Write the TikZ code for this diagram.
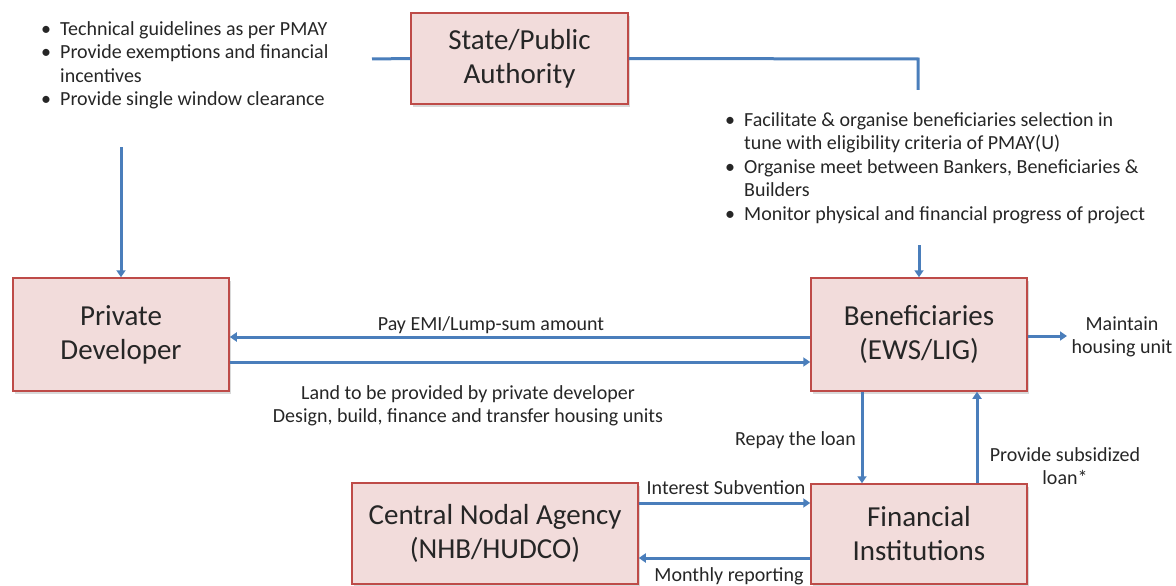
\documentclass[tikz,border=0pt]{standalone}
\usepackage{fontspec}
\setmainfont{Carlito}
\usetikzlibrary{arrows.meta}
\usetikzlibrary{shadows}
\usetikzlibrary{positioning}
\definecolor{boxfill}{HTML}{F2DCDB}
\definecolor{boxline}{HTML}{BE4B48}
\definecolor{flowblue}{HTML}{4A7EBB}
\definecolor{ink}{HTML}{262626}
\newcommand{\bul}{\makebox[19pt][l]{\textbullet}}
\newcommand{\bulgap}{\hspace*{19pt}}
\tikzset{agent/.style = {draw = boxline, line width = 1.5pt, fill = boxfill, align = center, text = ink, font = \fontsize{29}{34}\selectfont, drop shadow = {shadow xshift = 2pt, shadow yshift = -3pt, opacity = 0.3, fill = gray}}}
\tikzset{flow/.style = {draw = flowblue, line width = 3pt, -{Triangle[length = 7pt, width = 9pt]}}}
\tikzset{link/.style = {draw = flowblue, line width = 3pt}}
\tikzset{note/.style = {inner sep = 0, text = ink, font = \fontsize{20}{23.5}\selectfont}}

\begin{document}
\begin{tikzpicture}[x = 1pt, y = -1pt]
    \useasboundingbox (0, 0) rectangle (1176, 586);

    \node [agent, minimum width = 217, minimum height = 91] (state) at (519.5, 58.5) {State/Public\\Authority};
    \node [agent, minimum width = 216, minimum height = 113] (dev) at (121, 334.5) {Private\\Developer};
    \node [agent, minimum width = 216, minimum height = 113] (ben) at (919, 334.5) {Beneficiaries\\(EWS/LIG)};
    \node [agent, minimum width = 286, minimum height = 101] (nodal) at (495, 533.5) {Central Nodal Agency\\(NHB/HUDCO)};
    \node [agent, minimum width = 216, minimum height = 100] (bank) at (919, 534) {Financial\\Institutions};

    \node [note, anchor = north west, align = left] (guide) at (41, 21) {\bul Technical guidelines as per PMAY\\ \bul Provide exemptions and financial\\ \bulgap incentives\\ \bul Provide single window clearance};
    \node [note, anchor = north west, align = left] (role) at (725, 112) {\bul Facilitate \& organise beneficiaries selection in\\ \bulgap tune with eligibility criteria of PMAY(U)\\ \bul Organise meet between Bankers, Beneficiaries \&\\ \bulgap Builders\\ \bul Monitor physical and financial progress of project};

    \coordinate (stateleft) at (372, 59);
    \coordinate (statecorner) at (918, 59);
    \coordinate (stateend) at (918, 90);
    \draw [link] (stateleft) -- (state.west);
    \draw [link] (state.east) -- (statecorner) -- (stateend);

    \coordinate (devfeed) at (121, 147);
    \coordinate (benfeed) at (919, 245);
    \coordinate (keep) at (1067, 336);
    \draw [flow] (devfeed) -- (dev.north);
    \draw [flow] (benfeed) -- (ben.north);
    \draw [flow] ([yshift = -2.5pt] ben.west) -- ([yshift = -2.5pt] dev.east);
    \draw [flow] ([yshift = -27.5pt] dev.east) -- ([yshift = -27.5pt] ben.west);
    \draw [flow] ([yshift = -1.5pt] ben.east) -- (keep);
    \draw [flow] ([xshift = -57pt] ben.south) -- ([xshift = -57pt] bank.north);
    \draw [flow] ([xshift = 58pt] bank.north) -- ([xshift = 58pt] ben.south);
    \draw [flow] ([yshift = 30.5pt] nodal.east) -- ([yshift = 31pt] bank.west);
    \draw [flow] ([yshift = -24pt] bank.west) -- ([yshift = -24.5pt] nodal.east);

    \node [note] (paylabel) at (491, 325) {Pay EMI/Lump-sum amount};
    \node [note, align = center] (landlabel) at (468, 406) {Land to be provided by private developer\\Design, build, finance and transfer housing units};
    \node [note, anchor = east] (repaylabel) at (856, 440) {Repay the loan};
    \node [note, align = center] (loanlabel) at (1065, 466) {Provide subsidized\\loan*};
    \node [note, align = center] (keeplabel) at (1122, 337) {Maintain\\housing unit};
    \node [note] (subvlabel) at (726, 488) {Interest Subvention};
    \node [note] (reportlabel) at (729, 576) {Monthly reporting};
\end{tikzpicture}
\end{document}
